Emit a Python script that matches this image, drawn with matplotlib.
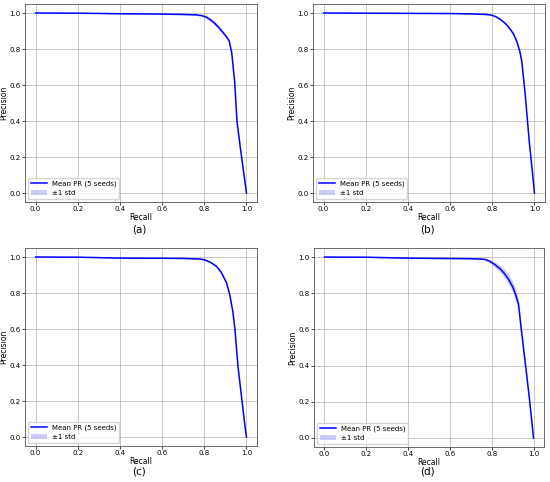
import matplotlib.pyplot as plt
import numpy as np

# Mean PR curves
recall_a = [0.0, 0.2, 0.4, 0.6, 0.7, 0.76, 0.79, 0.81, 0.83, 0.85, 0.87, 0.89, 0.905, 0.918, 0.93, 0.944, 0.955, 0.97, 0.985, 1.0]
prec_a = [1.0, 0.999, 0.996, 0.994, 0.992, 0.99, 0.985, 0.977, 0.962, 0.942, 0.918, 0.89, 0.868, 0.845, 0.78, 0.62, 0.40, 0.26, 0.13, 0.0]
std_a = [0.0, 0.0, 0.002, 0.002, 0.002, 0.003, 0.005, 0.008, 0.01, 0.012, 0.012, 0.01, 0.008, 0.006, 0.006, 0.006, 0.004, 0.003, 0.002, 0.0]

recall_b = [0.0, 0.2, 0.4, 0.6, 0.7, 0.77, 0.797, 0.82, 0.84, 0.86, 0.88, 0.9, 0.915, 0.93, 0.94, 0.956, 0.975, 0.99, 1.0]
prec_b = [1.0, 0.999, 0.998, 0.997, 0.995, 0.992, 0.988, 0.978, 0.963, 0.944, 0.918, 0.885, 0.845, 0.79, 0.73, 0.55, 0.29, 0.12, 0.0]
std_b = [0.0, 0.0, 0.001, 0.001, 0.002, 0.002, 0.003, 0.004, 0.006, 0.007, 0.008, 0.008, 0.008, 0.007, 0.005, 0.004, 0.003, 0.002, 0.0]

recall_c = [0.0, 0.2, 0.4, 0.6, 0.7, 0.78, 0.802, 0.83, 0.858, 0.88, 0.905, 0.92, 0.935, 0.945, 0.96, 0.975, 0.99, 1.0]
prec_c = [1.0, 0.999, 0.994, 0.993, 0.992, 0.989, 0.984, 0.97, 0.948, 0.915, 0.858, 0.795, 0.7, 0.604, 0.39, 0.24, 0.09, 0.0]
std_c = [0.0, 0.0, 0.001, 0.001, 0.002, 0.002, 0.003, 0.004, 0.006, 0.007, 0.007, 0.006, 0.006, 0.005, 0.004, 0.003, 0.002, 0.0]

recall_d = [0.0, 0.2, 0.4, 0.6, 0.7, 0.765, 0.79, 0.813, 0.84, 0.86, 0.88, 0.9, 0.915, 0.928, 0.94, 0.963, 0.98, 1.0]
prec_d = [1.0, 0.999, 0.994, 0.992, 0.991, 0.988, 0.977, 0.96, 0.935, 0.91, 0.878, 0.836, 0.79, 0.74, 0.613, 0.39, 0.22, 0.0]
std_d = [0.0, 0.0, 0.003, 0.003, 0.003, 0.004, 0.01, 0.015, 0.02, 0.025, 0.028, 0.03, 0.032, 0.03, 0.02, 0.01, 0.005, 0.0]

captions = ["(a)", "(b)", "(c)", "(d)"]
curves = [(recall_a, prec_a, std_a), (recall_b, prec_b, std_b),
          (recall_c, prec_c, std_c), (recall_d, prec_d, std_d)]

W, H = 550, 482
# axes boxes in pixels: left, top, right, bottom
boxes = [(25, 4, 257, 202), (313, 4, 545, 202),
         (25, 248, 257, 446), (314, 248, 544, 447)]
cap_y = [229, 229, 472, 472]

fig = plt.figure(figsize=(W / 100, H / 100), dpi=100)

for (l, t, r, b), (rec, prec, sd), cap, cy in zip(boxes, curves, captions, cap_y):
    ax = fig.add_axes([l / W, 1 - b / H, (r - l) / W, (b - t) / H])
    rec = np.array(rec)
    prec = np.array(prec)
    sd = np.array(sd)
    ax.fill_between(rec, prec - sd, np.minimum(prec + sd, 1.0), color="#0000ff", alpha=0.2,
                    linewidth=0, label="±1 std")
    ax.plot(rec, prec, color="#0000ff", lw=1.1, label="Mean PR (5 seeds)")
    ax.set_xlim(-0.05, 1.05)
    ax.set_ylim(-0.05, 1.05)
    ax.set_xticks(np.arange(0, 1.01, 0.2))
    ax.set_yticks(np.arange(0, 1.01, 0.2))
    ax.tick_params(labelsize=5, length=2, width=0.5, pad=1.2)
    ax.grid(True, color="#b0b0b0", lw=0.5)
    for sp in ax.spines.values():
        sp.set_linewidth(0.6)
        sp.set_color("#555555")
    ax.set_xlabel("Recall", fontsize=5.5, labelpad=0.5)
    ax.set_ylabel("Precision", fontsize=5.5, labelpad=0.8)
    h, lb = ax.get_legend_handles_labels()
    ax.legend(h[::-1], lb[::-1], loc="lower left", fontsize=5, framealpha=0.8,
              borderpad=0.4, handlelength=2.2, labelspacing=0.4)
    fig.text(((l + r) / 2 - 2) / W, 1 - cy / H, cap, ha="center", va="center", fontsize=7.5)

fig.savefig("out.png", dpi=100)
